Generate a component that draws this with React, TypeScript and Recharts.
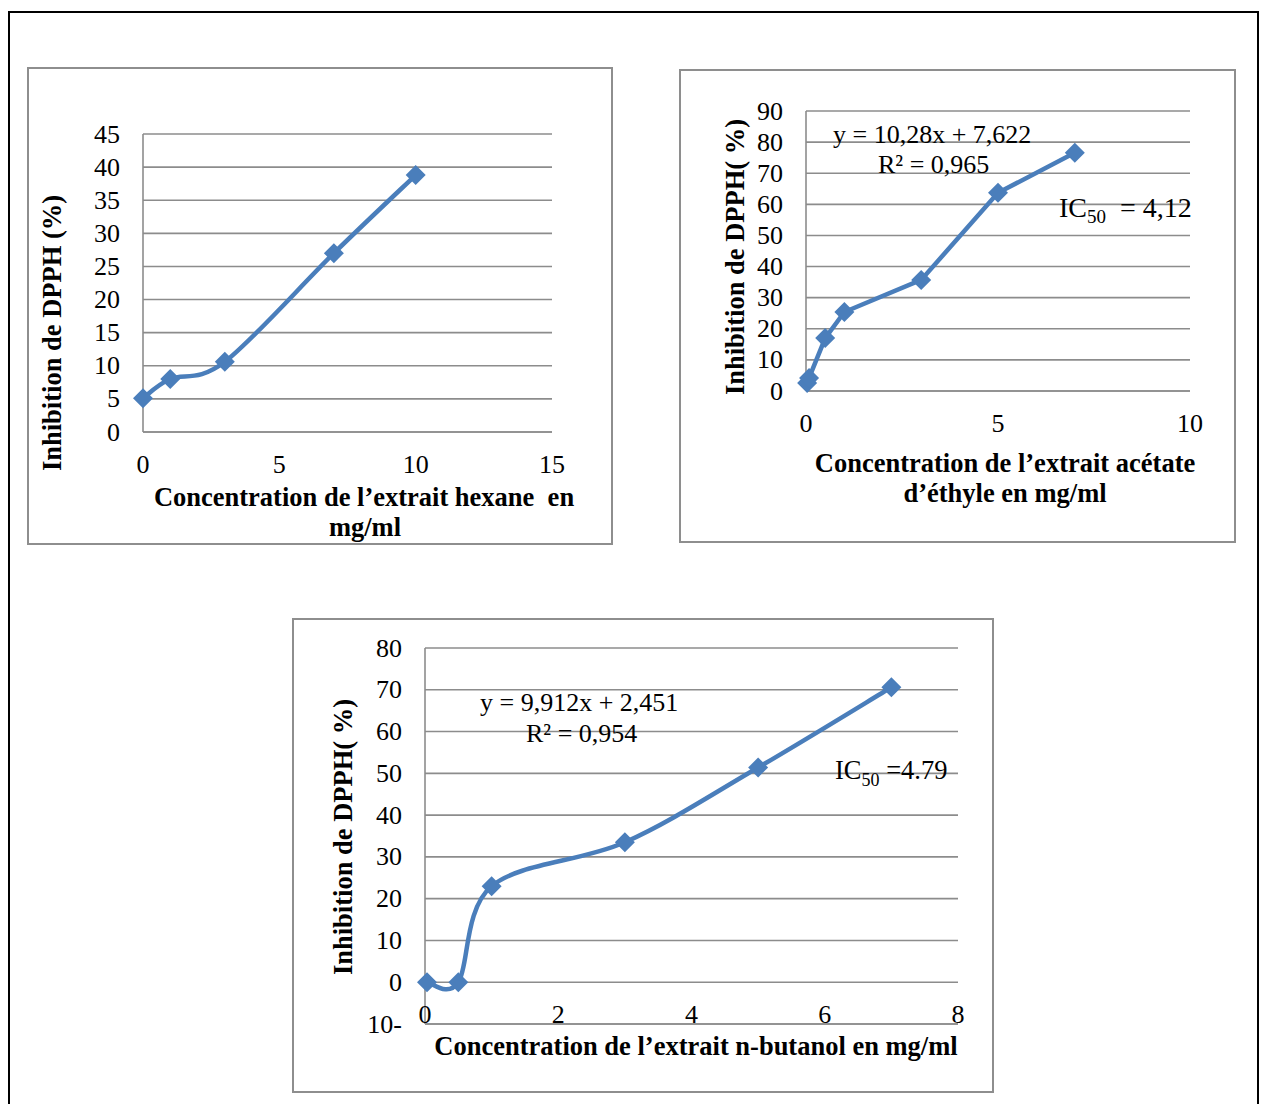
import React from 'react'
import { LineChart, Line, XAxis, YAxis, CartesianGrid } from 'recharts'

// hexane extract
const hexaneConc = [0, 1, 3, 7, 10]
const hexaneInhib = [5.1, 8.0, 10.6, 27.0, 38.8]
const hexaneXTicks = [0, 5, 10, 15]
const hexaneYTicks = [0, 5, 10, 15, 20, 25, 30, 35, 40, 45]

// ethyl acetate extract
const acetateConc = [0.03, 0.08, 0.5, 1, 3, 5, 7]
const acetateInhib = [2.6, 4.2, 17.0, 25.4, 35.7, 63.7, 76.6]
const acetateXTicks = [0, 5, 10]
const acetateYTicks = [0, 10, 20, 30, 40, 50, 60, 70, 80, 90]

// n-butanol extract
const butanolConc = [0.03, 0.5, 1, 3, 5, 7]
const butanolInhib = [0, 0, 23.0, 33.5, 51.4, 70.6]
const butanolXTicks = [0, 2, 4, 6, 8]
const butanolYTicks = [-10, 0, 10, 20, 30, 40, 50, 60, 70, 80]

const BLUE = '#4a7ebb'
const GRID = '#8c8c8c'
const FONT = '"Liberation Serif", "Times New Roman", serif'

const toRows = (xs: number[], ys: number[]) => xs.map((x, i) => ({ x, y: ys[i] }))

// smoothed line like the spreadsheet's: bezier through each point, tangent (p[i+1]-p[i-1])/6
const smoothCurve = (ctx: any) => {
  let pts: number[][] = []
  return {
    areaStart() {},
    areaEnd() {},
    lineStart() {
      pts = []
    },
    point(x: number, y: number) {
      pts.push([+x, +y])
    },
    lineEnd() {
      const n = pts.length
      if (!n) return
      ctx.moveTo(pts[0][0], pts[0][1])
      for (let i = 0; i < n - 1; i++) {
        const p0 = pts[Math.max(i - 1, 0)]
        const p1 = pts[i]
        const p2 = pts[i + 1]
        const p3 = pts[Math.min(i + 2, n - 1)]
        ctx.bezierCurveTo(
          p1[0] + (p2[0] - p0[0]) / 6,
          p1[1] + (p2[1] - p0[1]) / 6,
          p2[0] - (p3[0] - p1[0]) / 6,
          p2[1] - (p3[1] - p1[1]) / 6,
          p2[0],
          p2[1]
        )
      }
    },
  }
}

const Diamond = (props: any) => {
  const { cx, cy, index } = props
  if (cx == null || cy == null) return <g key={`d-${index}`} />
  const r = 10
  return (
    <path
      key={`d-${index}`}
      d={`M${cx},${cy - r}L${cx + r},${cy}L${cx},${cy + r}L${cx - r},${cy}Z`}
      fill={BLUE}
    />
  )
}

interface PanelProps {
  box: { x: number; y: number; w: number; h: number }
  plot: { l: number; t: number; r: number; b: number }
  data: { x: number; y: number }[]
  xTicks: number[]
  yTicks: number[]
  curve: any
  xLabelDy: number
  yFmt?: (v: number) => string
}

function Panel({ box, plot, data, xTicks, yTicks, curve, xLabelDy, yFmt }: PanelProps) {
  const margin = {
    top: plot.t - box.y,
    left: plot.l - box.x - 1,
    right: box.x + box.w - plot.r,
    bottom: box.y + box.h - plot.b - 1,
  }
  return (
    <>
      <div
        style={{
          position: 'absolute',
          left: box.x,
          top: box.y,
          width: box.w,
          height: box.h,
          boxSizing: 'border-box',
          border: '2px solid #8e8e8e',
        }}
      />
      <div style={{ position: 'absolute', left: box.x, top: box.y }}>
        <LineChart width={box.w} height={box.h} data={data} margin={margin}>
          <CartesianGrid vertical={false} stroke={GRID} strokeWidth={1.6} />
          <XAxis
            type="number"
            dataKey="x"
            domain={[xTicks[0], xTicks[xTicks.length - 1]]}
            ticks={xTicks}
            height={1}
            tickLine={false}
            tickSize={0}
            tickMargin={0}
            axisLine={{ stroke: GRID, strokeWidth: 1.6 }}
            tick={(p: any) => (
              <text
                x={p.x}
                y={plot.b - box.y + xLabelDy}
                textAnchor="middle"
                dominantBaseline="central"
                fontFamily={FONT}
                fontSize={26}
                fill="#000"
              >
                {p.payload.value}
              </text>
            )}
          />
          <YAxis
            type="number"
            domain={[yTicks[0], yTicks[yTicks.length - 1]]}
            ticks={yTicks}
            width={1}
            tickLine={false}
            tickSize={0}
            tickMargin={0}
            axisLine={{ stroke: GRID, strokeWidth: 1.6 }}
            tick={(p: any) => (
              <text
                x={plot.l - box.x - 23}
                y={p.y}
                textAnchor="end"
                dominantBaseline="central"
                fontFamily={FONT}
                fontSize={26}
                fill="#000"
              >
                {yFmt ? yFmt(p.payload.value) : p.payload.value}
              </text>
            )}
          />
          <Line
            type={curve}
            dataKey="y"
            stroke={BLUE}
            strokeWidth={4.5}
            dot={Diamond}
            activeDot={false}
            isAnimationActive={false}
          />
        </LineChart>
      </div>
    </>
  )
}

const Txt = ({ x, y, children, bold, center, size = 26.5 }: any) => (
  <div
    style={{
      position: 'absolute',
      left: x,
      top: y,
      transform: center ? 'translate(-50%, -50%)' : 'translateY(-50%)',
      whiteSpace: 'pre',
      lineHeight: 1,
      fontFamily: FONT,
      fontSize: size,
      fontWeight: bold ? 'bold' : 'normal',
      color: '#000',
    }}
  >
    {children}
  </div>
)

const VTxt = ({ x, y, children }: any) => (
  <div
    style={{
      position: 'absolute',
      left: x,
      top: y,
      transform: 'translate(-50%, -50%) rotate(-90deg)',
      whiteSpace: 'pre',
      lineHeight: 1,
      fontFamily: FONT,
      fontSize: 26.5,
      fontWeight: 'bold',
      color: '#000',
    }}
  >
    {children}
  </div>
)

export default function App() {
  return (
    <div
      style={{
        position: 'absolute',
        left: 0,
        top: 0,
        width: 1263,
        height: 1104,
        background: '#fff',
        overflow: 'hidden',
        fontFamily: FONT,
      }}
    >
      {/* outer frame */}
      <div
        style={{
          position: 'absolute',
          left: 8,
          top: 11,
          width: 1251,
          height: 1110,
          boxSizing: 'border-box',
          border: '2px solid #000',
        }}
      />

      <Panel
        box={{ x: 27, y: 67, w: 586, h: 478 }}
        plot={{ l: 143, t: 134, r: 552, b: 432 }}
        data={toRows(hexaneConc, hexaneInhib)}
        xTicks={hexaneXTicks}
        yTicks={hexaneYTicks}
        curve={smoothCurve}
        xLabelDy={32}
      />
      <VTxt x={52} y={333}>Inhibition de DPPH (%)</VTxt>
      <Txt x={364} y={497} bold center>Concentration de l’extrait hexane  en</Txt>
      <Txt x={365} y={527} bold center>mg/ml</Txt>

      <Panel
        box={{ x: 679, y: 69, w: 557, h: 474 }}
        plot={{ l: 806, t: 111, r: 1190, b: 391 }}
        data={toRows(acetateConc, acetateInhib)}
        xTicks={acetateXTicks}
        yTicks={acetateYTicks}
        curve="linear"
        xLabelDy={32}
      />
      <VTxt x={735} y={257}>Inhibition de DPPH( %)</VTxt>
      <Txt x={1005} y={463} bold center>Concentration de l’extrait acétate</Txt>
      <Txt x={1005} y={493} bold center>d’éthyle en mg/ml</Txt>
      <Txt x={833} y={135} size={26}>y = 10,28x + 7,622</Txt>
      <Txt x={878} y={165} size={26}>R² = 0,965</Txt>
      <Txt x={1059} y={210} size={28}>
        IC<sub style={{ fontSize: 19 }}>50</sub>  = 4,12
      </Txt>

      <Panel
        box={{ x: 292, y: 618, w: 702, h: 475 }}
        plot={{ l: 425, t: 648, r: 958, b: 1024 }}
        data={toRows(butanolConc, butanolInhib)}
        xTicks={butanolXTicks}
        yTicks={butanolYTicks}
        curve={smoothCurve}
        xLabelDy={-10}
        yFmt={(v) => (v < 0 ? `${-v}-` : `${v}`)}
      />
      <VTxt x={343} y={837}>Inhibition de DPPH( %)</VTxt>
      <Txt x={696} y={1046} bold center>Concentration de l’extrait n-butanol en mg/ml</Txt>
      <Txt x={480} y={703} size={26}>y = 9,912x + 2,451</Txt>
      <Txt x={526} y={734} size={26}>R² = 0,954</Txt>
      <Txt x={835} y={773} size={26.5}>
        IC<sub style={{ fontSize: 18 }}>50</sub> =4.79
      </Txt>
    </div>
  )
}
